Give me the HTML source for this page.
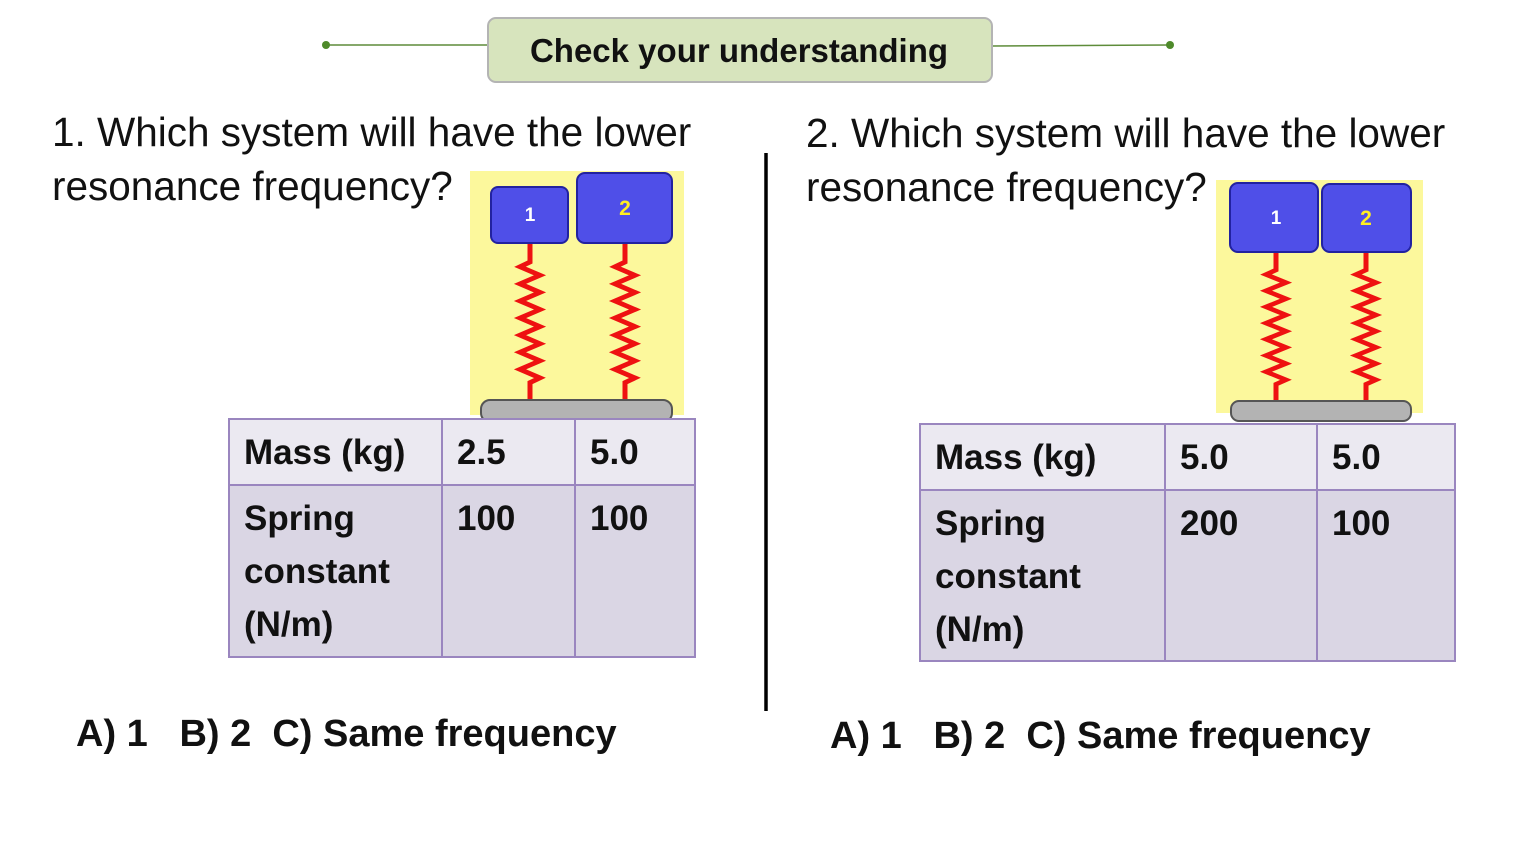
<!DOCTYPE html>
<html><head><meta charset="utf-8"><style>
body{margin:0;width:1533px;height:864px;background:#fff;position:relative;overflow:hidden;font-family:"Liberation Sans",sans-serif}
.abs{position:absolute}
.q{font-size:40.5px;color:#111;line-height:54px;white-space:nowrap}
.ans{font-size:38px;font-weight:bold;color:#111;white-space:nowrap}
table{position:absolute;border-collapse:collapse;font-weight:bold;font-size:35px;color:#111}
td{border:2px solid #9a86bf;vertical-align:top;padding:6px 14px 0;line-height:53px}
tr.h td{background:#ebe9f1;vertical-align:middle;padding:0 14px}
tr.b td{background:#dad6e4}
</style></head><body>
<svg class="abs" style="left:0;top:0" width="1533" height="864">
<defs>
<g id="spr"><path d="M0,0 v20 l-10,5 l20,9 l-20,9 l20,9 l-20,9 l20,9 l-20,9 l20,9 l-20,9 l20,9 l-20,9 l20,9 l-20,9 l20,9 l-10,5 v22 h-3 v12" fill="none" stroke="#ee1111" stroke-width="5"/></g>
</defs>
<line x1="326" y1="45" x2="488" y2="45" stroke="#5e8c3a" stroke-width="1.5"/>
<line x1="992" y1="46" x2="1170" y2="45" stroke="#5e8c3a" stroke-width="1.5"/>
<circle cx="326" cy="45" r="4" fill="#4e8a2a"/><circle cx="1170" cy="45" r="4" fill="#4e8a2a"/>
<rect x="488" y="18" width="504" height="64" rx="8" fill="#d7e4bd" stroke="#b4b4b4" stroke-width="2"/>
<text x="739" y="62" text-anchor="middle" font-family="Liberation Sans" font-weight="bold" font-size="33" fill="#111">Check your understanding</text>
<line x1="766" y1="153" x2="766" y2="711" stroke="#000" stroke-width="3.5"/>
<rect x="470" y="171" width="214" height="244" fill="#fcf89c"/>
<use href="#spr" transform="translate(530,243) scale(1,0.95)"/>
<use href="#spr" transform="translate(625,243) scale(1,0.95)"/>
<rect x="481" y="400" width="191" height="22" rx="9" fill="#b3b3b3" stroke="#555" stroke-width="2"/>
<rect x="491" y="187" width="77" height="56" rx="7" fill="#4f4fe8" stroke="#2222a0" stroke-width="2"/>
<rect x="577" y="173" width="95" height="70" rx="8" fill="#4f4fe8" stroke="#2222a0" stroke-width="2"/>
<text x="530" y="221" text-anchor="middle" font-weight="bold" font-size="19" fill="#fff">1</text>
<text x="625" y="215" text-anchor="middle" font-weight="bold" font-size="21" fill="#ffee22">2</text>
<rect x="1216" y="180" width="207" height="233" fill="#fcf89c"/>
<use href="#spr" transform="translate(1276,252) scale(1,0.9)"/>
<use href="#spr" transform="translate(1366,252) scale(1,0.9)"/>
<rect x="1231" y="401" width="180" height="20" rx="8" fill="#b3b3b3" stroke="#555" stroke-width="2"/>
<rect x="1230" y="183" width="88" height="69" rx="8" fill="#4f4fe8" stroke="#2222a0" stroke-width="2"/>
<rect x="1322" y="184" width="89" height="68" rx="8" fill="#4f4fe8" stroke="#2222a0" stroke-width="2"/>
<text x="1276" y="224" text-anchor="middle" font-weight="bold" font-size="19" fill="#fff">1</text>
<text x="1366" y="225" text-anchor="middle" font-weight="bold" font-size="21" fill="#ffee22">2</text>
</svg>
<div class="abs q" style="left:52px;top:105px">1. Which system will have the lower<br>resonance frequency?</div>
<div class="abs q" style="left:806px;top:106px">2. Which system will have the lower<br>resonance frequency?</div>
<table style="left:228px;top:418px;width:468px;height:240px">
<tr class="h" style="height:66px"><td style="width:183px">Mass (kg)</td><td style="width:103px">2.5</td><td>5.0</td></tr>
<tr class="b"><td>Spring<br>constant<br>(N/m)</td><td>100</td><td>100</td></tr>
</table>
<table style="left:919px;top:423px;width:537px;height:239px">
<tr class="h" style="height:66px"><td style="width:215px">Mass (kg)</td><td style="width:122px">5.0</td><td>5.0</td></tr>
<tr class="b"><td>Spring<br>constant<br>(N/m)</td><td>200</td><td>100</td></tr>
</table>
<div class="abs ans" style="left:76px;top:713px">A) 1&nbsp;&nbsp; B) 2&nbsp; C) Same frequency</div>
<div class="abs ans" style="left:830px;top:715px">A) 1&nbsp;&nbsp; B) 2&nbsp; C) Same frequency</div>
</body></html>
